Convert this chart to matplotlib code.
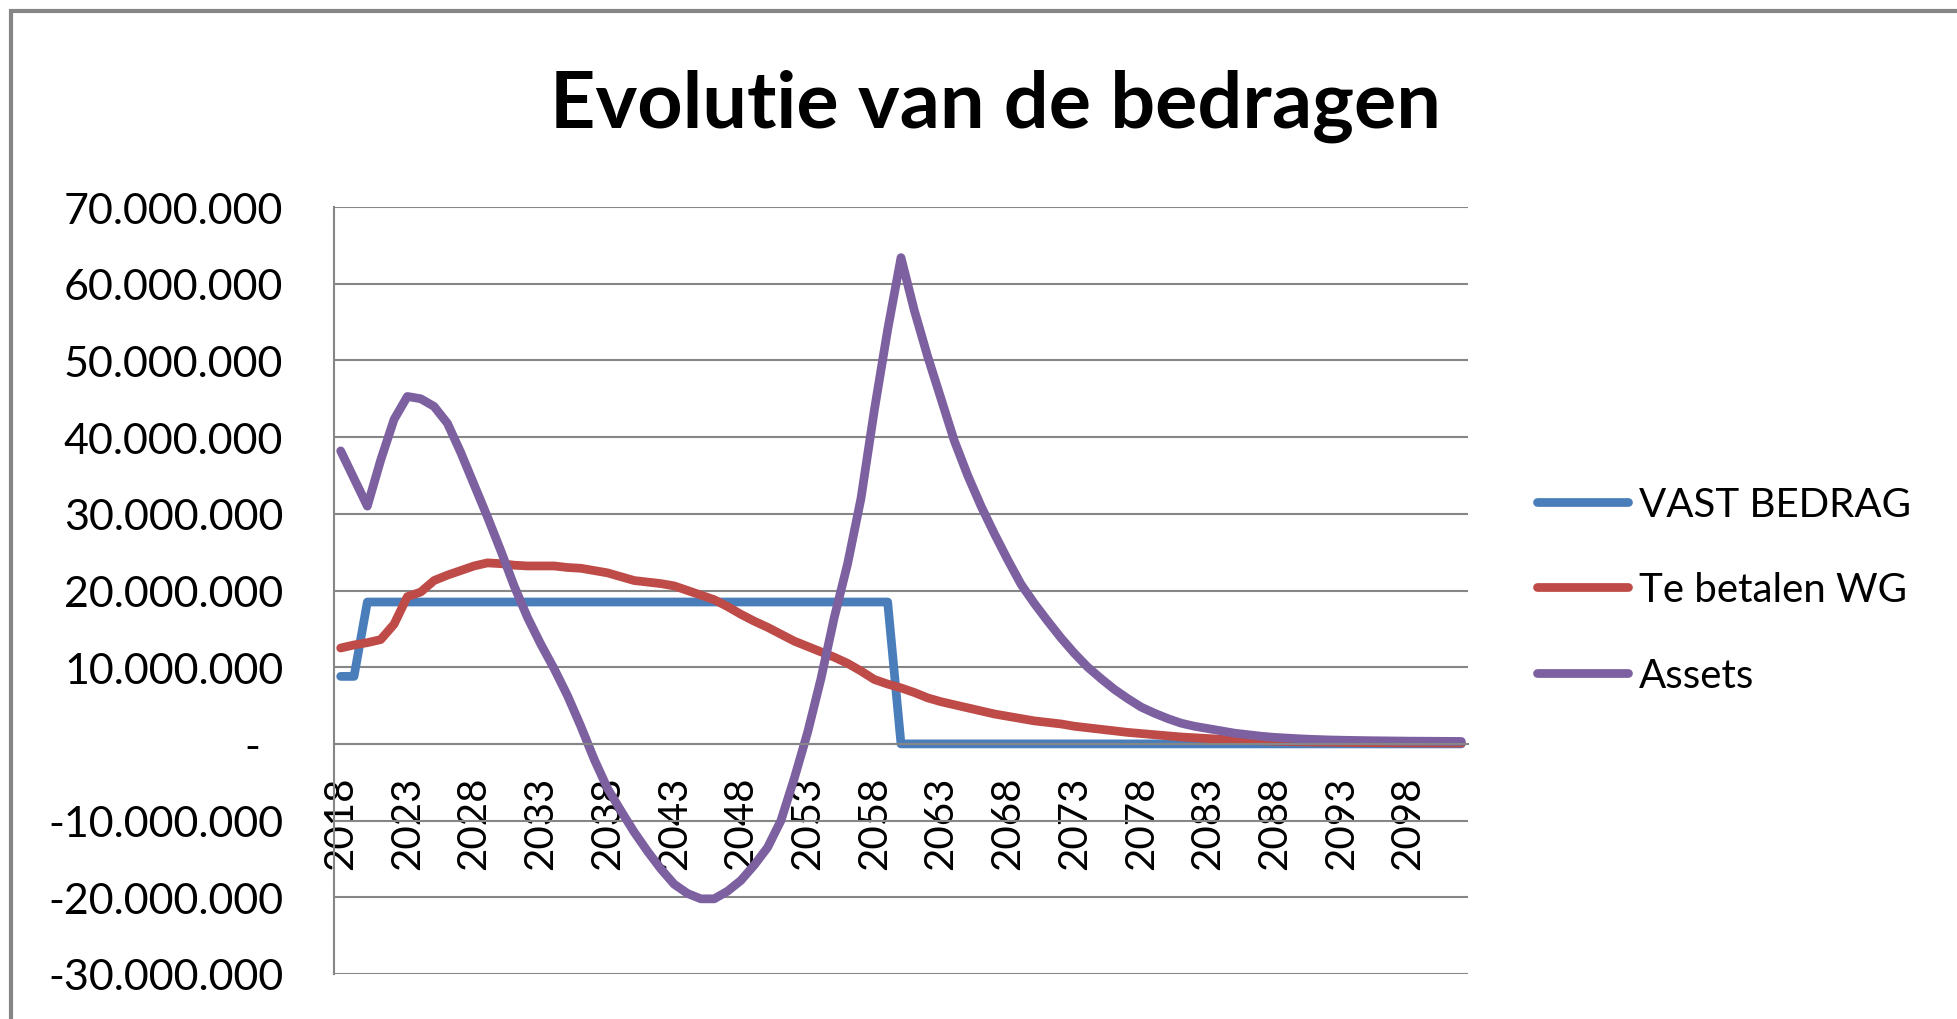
import matplotlib
matplotlib.use("Agg")
import matplotlib.pyplot as plt
from matplotlib.patches import Rectangle
from matplotlib.ticker import FuncFormatter, FixedLocator

# jaren 2018 t/m 2102, bedragen in miljoen
jaren = list(range(2018, 2103))

vast_bedrag = [
    8.8, 8.8, 18.5, 18.5, 18.5, 18.5, 18.5, 18.5, 18.5, 18.5,
    18.5, 18.5, 18.5, 18.5, 18.5, 18.5, 18.5, 18.5, 18.5, 18.5,
    18.5, 18.5, 18.5, 18.5, 18.5, 18.5, 18.5, 18.5, 18.5, 18.5,
    18.5, 18.5, 18.5, 18.5, 18.5, 18.5, 18.5, 18.5, 18.5, 18.5,
    18.5, 18.5, 0, 0, 0, 0, 0, 0, 0, 0,
    0, 0, 0, 0, 0, 0, 0, 0, 0, 0,
    0, 0, 0, 0, 0, 0, 0, 0, 0, 0,
    0, 0, 0, 0, 0, 0, 0, 0, 0, 0,
    0, 0, 0, 0, 0,
]

te_betalen_wg = [
    12.5, 12.9, 13.2, 13.6, 15.6, 19.2, 19.8, 21.3, 22.0, 22.6,
    23.2, 23.6, 23.5, 23.3, 23.2, 23.2, 23.2, 23.0, 22.9, 22.6,
    22.3, 21.8, 21.3, 21.1, 20.9, 20.6, 20.0, 19.4, 18.8, 17.9,
    16.9, 16.0, 15.2, 14.3, 13.4, 12.7, 12.0, 11.3, 10.5, 9.5,
    8.4, 7.8, 7.3, 6.7, 6.0, 5.5, 5.1, 4.7, 4.3, 3.9,
    3.6, 3.3, 3.0, 2.8, 2.6, 2.3, 2.1, 1.9, 1.7, 1.5,
    1.35, 1.2, 1.05, 0.9, 0.8, 0.7, 0.6, 0.5, 0.45, 0.4,
    0.35, 0.3, 0.27, 0.24, 0.22, 0.2, 0.18, 0.16, 0.15, 0.14,
    0.13, 0.12, 0.11, 0.1, 0.1,
]

assets = [
    38.2, 34.6, 31.0, 37.0, 42.3, 45.3, 45.0, 44.0, 41.8, 38.0,
    33.8, 29.6, 25.2, 20.6, 16.5, 13.0, 9.8, 6.3, 2.3, -2.0,
    -5.8, -8.7, -11.5, -14.0, -16.3, -18.3, -19.5, -20.2, -20.2, -19.2,
    -17.8, -15.8, -13.5, -10.0, -4.5, 1.5, 8.5, 16.5, 23.5, 32.0,
    43.5, 54.0, 63.4, 56.5, 50.5, 45.0, 39.5, 35.0, 31.0, 27.4,
    24.0, 20.8, 18.3, 16.0, 13.8, 11.8, 10.0, 8.5, 7.1, 5.9,
    4.8, 4.0, 3.3, 2.7, 2.3, 2.0, 1.7, 1.4, 1.2, 1.0,
    0.85, 0.75, 0.65, 0.58, 0.52, 0.48, 0.45, 0.42, 0.40, 0.38,
    0.36, 0.35, 0.34, 0.33, 0.32,
]

reeksen = ["VAST BEDRAG", "Te betalen WG", "Assets"]
kleuren = ["#4A7EBB", "#BE4B48", "#7D60A0"]
y_ticks = [-30, -20, -10, 0, 10, 20, 30, 40, 50, 60, 70]

GRIJS = "#868686"
W, H = 1957, 1020

plt.rcParams["font.family"] = ["Lato", "DejaVu Sans"]

fig = plt.figure(figsize=(W / 100, H / 100), dpi=100)
ax = fig.add_axes([334 / W, 1 - 975 / H, (1468 - 334) / W, (975 - 208) / H])

# x-as ligt op nul; eerst de spine verplaatsen, daarna de ticks instellen
for kant in ["top", "right"]:
    ax.spines[kant].set_visible(False)
ax.spines["bottom"].set_position(("data", 0))
for kant in ["left", "bottom"]:
    ax.spines[kant].set_color(GRIJS)
    ax.spines[kant].set_linewidth(1.5)

x = list(range(len(jaren)))
for naam, kleur, waarden in zip(reeksen, kleuren, [vast_bedrag, te_betalen_wg, assets]):
    ax.plot(x, waarden, color=kleur, lw=6.3, label=naam,
            solid_joinstyle="round", solid_capstyle="round")

ax.set_xlim(-0.5, len(jaren) - 0.5)
ax.set_ylim(-30, 70)

ax.yaxis.set_major_locator(FixedLocator(y_ticks))
ax.yaxis.set_major_formatter(FuncFormatter(
    lambda v, pos: "-  " if v == 0 else f"{int(round(v * 1e6)):,}".replace(",", ".")))
ax.set_xticks(x[::5])
ax.set_xticklabels([str(j) for j in jaren[::5]])

ax.grid(axis="y", color=GRIJS, lw=1.5)
ax.set_axisbelow(True)

ax.tick_params(axis="y", length=0, pad=36.5, labelsize=31)
ax.tick_params(axis="x", length=0, pad=23, labelsize=29, labelrotation=90)

fig.text(995 / W, 1 - 128 / H, "Evolutie van de bedragen",
         ha="center", va="baseline", fontsize=57, fontweight="bold")

ax.legend(loc="center left", bbox_to_anchor=(1537 / W, 1 - 591 / H),
          bbox_transform=fig.transFigure, frameon=False, fontsize=29,
          handlelength=2.25, handletextpad=0.28, labelspacing=1.2,
          borderpad=0, borderaxespad=0)

# kader rond het grafiekgebied
fig.add_artist(Rectangle((11 / W, -0.1), 1.2, 1.1 - 12 / H,
                         transform=fig.transFigure, fill=False,
                         edgecolor=GRIJS, lw=3))

fig.savefig("out.png", dpi=100, facecolor="white")
